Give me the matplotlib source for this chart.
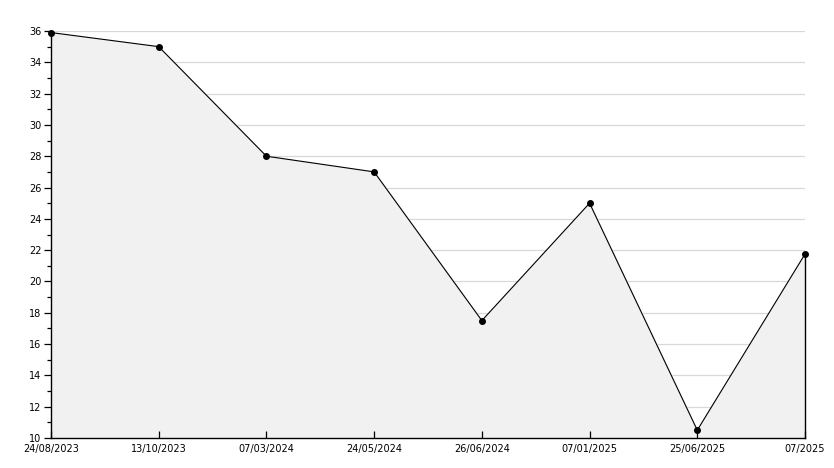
import matplotlib
matplotlib.use("Agg")
import matplotlib.pyplot as plt
from matplotlib.ticker import MultipleLocator

# data
dates = ["24/08/2023", "13/10/2023", "07/03/2024", "24/05/2024",
         "26/06/2024", "07/01/2025", "25/06/2025", "07/2025"]
values = [35.9, 35.0, 28.0, 27.0, 17.5, 25.0, 10.5, 21.75]

x = list(range(len(dates)))

fig = plt.figure(figsize=(8.34, 4.68), dpi=100)
ax = fig.add_axes([51 / 834, 1 - 438 / 468, (805 - 51) / 834, (438 - 31) / 468])

ax.set_xlim(0, len(dates) - 1)
ax.set_ylim(10, 36)

# light grid under the filled area
for yv in range(12, 37, 2):
    ax.axhline(yv, color="#d8d8d8", linewidth=0.9, zorder=0)

ax.fill_between(x, values, 10, color="#f1f1f1", zorder=1)
ax.plot(x, values, color="black", linewidth=0.8, marker="o", markersize=4,
        zorder=3, clip_on=False)
ax.plot([x[-1], x[-1]], [10, values[-1]], color="black", linewidth=1.0,
        zorder=3, clip_on=False)

ax.set_xticks(x)
ax.set_xticklabels(dates)
ax.yaxis.set_major_locator(MultipleLocator(2))
ax.yaxis.set_minor_locator(MultipleLocator(1))

ax.tick_params(axis="x", direction="in", length=5, width=0.9, labelsize=7, pad=4)
ax.tick_params(axis="y", which="major", direction="out", length=5, width=0.9, labelsize=7, pad=2)
ax.tick_params(axis="y", which="minor", direction="out", length=3, width=0.9)

for s in ["top", "right"]:
    ax.spines[s].set_visible(False)
for s in ["left", "bottom"]:
    ax.spines[s].set_linewidth(1.0)

fig.savefig("out.png", dpi=100)
